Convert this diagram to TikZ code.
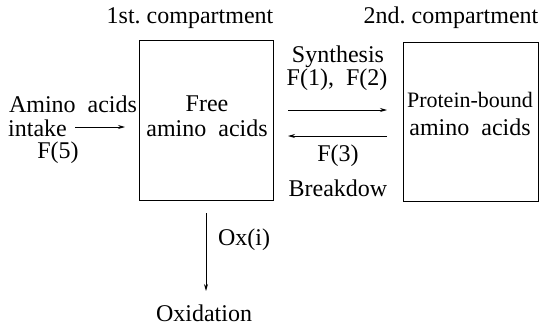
\documentclass[tikz,border=0pt]{standalone}
\usepackage{fontspec}
\setmainfont{Liberation Serif}
\usetikzlibrary{arrows.meta}
\begin{document}
\begin{tikzpicture}[x=1pt,y=-1pt,
  lbl/.style={inner sep=0pt, font=\fontsize{24}{28}\selectfont},
  comp/.style={draw, line width=1pt, inner sep=0pt},
  arr/.style={-{Stealth[length=7pt,width=4pt]}, line width=0.8pt}]
\useasboundingbox (0,0) rectangle (548,327);
% compartments
\node[comp, minimum width=134pt, minimum height=160pt] (c1) at (206.5,120) {};
\node[comp, minimum width=135pt, minimum height=159pt] (c2) at (470.5,121.5) {};
% titles
\node[lbl] (t1) at (190,18) {1st.\hspace{-2pt} compartment};
\node[lbl] (t2) at (451,18) {2nd.\hspace{-2pt} compartment};
% box contents
\node[lbl] (free1) at (207,104) {Free};
\node[lbl] (free2) at (207,128) {amino\ \ acids};
\node[lbl, font=\fontsize{22}{26}\selectfont] (pb1) at (470,100) {Protein-bound};
\node[lbl] (pb2) at (470,127) {amino\ \ acids};
% intake
\node[lbl] (in1) at (73,104) {Amino\ \ acids};
\node[lbl, anchor=west] (in2) at (8,128) {intake};
\node[lbl] (in3) at (58,153) {F(5)};
\coordinate (ia) at (75,127);
\coordinate (ib) at (125,127);
\draw[arr] (ia) -- (ib);
% synthesis / breakdown
\node[lbl] (sy1) at (338,57) {Synthesis};
\node[lbl] (sy2) at (337,80) {F(1),\ \ F(2)};
\node[lbl] (bd1) at (338,156) {F(3)};
\node[lbl] (bd2) at (338,188) {Breakdow};
\coordinate (sa) at (288,110);
\coordinate (sb) at (387,110);
\coordinate (ba) at (387,136);
\coordinate (bb) at (288,136);
\draw[arr] (sa) -- (sb);
\draw[arr] (ba) -- (bb);
% oxidation
\node[lbl] (ox) at (244,240) {Ox(i)};
\node[lbl] (oxd) at (204,313) {Oxidation};
\coordinate (oa) at (206,213);
\coordinate (ob) at (206,291);
\draw[arr] (oa) -- (ob);
\end{tikzpicture}
\end{document}
